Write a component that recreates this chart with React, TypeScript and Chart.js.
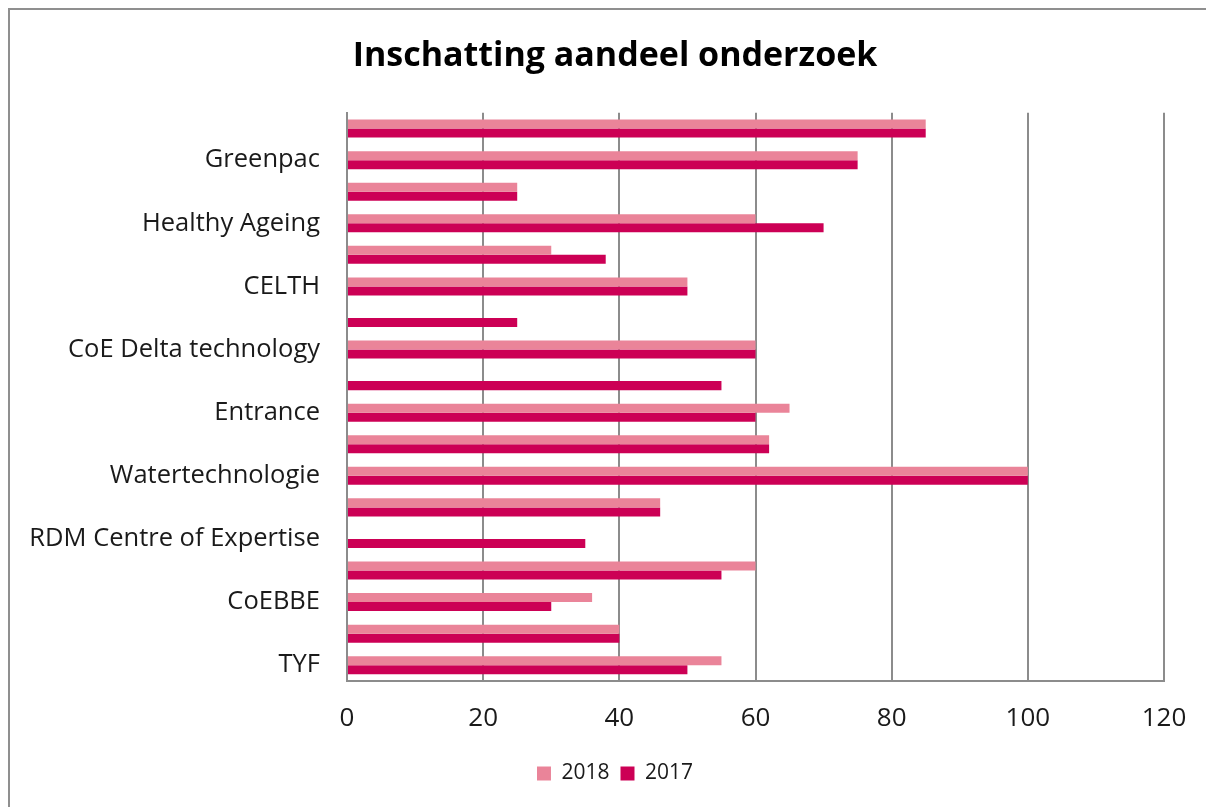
import React, { useEffect, useRef } from "react";
import { Chart, registerables } from "chart.js";

Chart.register(...registerables);

const TITLE = "Inschatting aandeel onderzoek";
const categories = [
  "", "Greenpac", "", "Healthy Ageing", "", "CELTH", "", "CoE Delta technology", "",
  "Entrance", "", "Watertechnologie", "", "RDM Centre of Expertise", "", "CoEBBE", "", "TYF",
];
const series2018 = [85, 75, 25, 60, 30, 50, null, 60, null, 65, 62, 100, 46, null, 60, 36, 40, 55];
const series2017 = [85, 75, 25, 70, 38, 50, 25, 60, 55, 60, 62, 100, 46, 35, 55, 30, 40, 50];
const xTicks = [0, 20, 40, 60, 80, 100, 120];

const FONT = "'Open Sans', sans-serif";
const GRID = "#8c8c8c";

const widenLabelArea = {
  id: "widenLabelArea",
  afterLayout(chart: any) {
    if (chart.scales.y) chart.scales.y.left = 0;
  },
};

export default function App() {
  const ref = useRef<HTMLCanvasElement | null>(null);
  useEffect(() => {
    document.body.style.overflow = "hidden";
    if (!ref.current) return;
    const chart = new Chart(ref.current, {
      type: "bar",
      data: {
        labels: categories,
        datasets: [
          { label: "2018", data: series2018, backgroundColor: "#EA8499", borderWidth: 0, categoryPercentage: 0.571, barPercentage: 1 },
          { label: "2017", data: series2017, backgroundColor: "#CC0055", borderWidth: 0, categoryPercentage: 0.571, barPercentage: 1 },
        ],
      },
      plugins: [widenLabelArea],
      options: {
        indexAxis: "y",
        animation: false,
        responsive: false,
        maintainAspectRatio: false,
        layout: { padding: { left: 56, right: 50, top: 0, bottom: 13 } },
        plugins: {
          tooltip: { enabled: false },
          title: {
            display: true,
            text: TITLE,
            color: "#000",
            font: { family: FONT, size: 34, weight: "bold" },
            padding: { top: 26, bottom: 36 },
          },
          legend: {
            display: true,
            position: "bottom",
            labels: {
              color: "#1a1a1a",
              font: { family: FONT, size: 21 },
              boxWidth: 14,
              boxHeight: 14,
              padding: 11,
            },
          },
        },
        scales: {
          x: {
            type: "linear",
            min: 0,
            max: 120,
            afterBuildTicks: (axis: any) => {
              axis.ticks = xTicks.map((v) => ({ value: v }));
            },
            afterFit: (axis: any) => {
              axis.height = 71;
            },
            ticks: { color: "#1a1a1a", font: { family: FONT, size: 26 }, padding: 22 },
            grid: { color: GRID, lineWidth: 2, drawTicks: false },
            border: { display: true, color: GRID, width: 2 },
          },
          y: {
            type: "category",
            afterFit: (axis: any) => {
              axis.width = 281;
            },
            ticks: { color: "#1a1a1a", font: { family: FONT, size: 25.5 }, padding: 27, autoSkip: false },
            grid: { display: false, drawTicks: false },
            border: { display: true, color: GRID, width: 2 },
          },
        },
      },
    });
    return () => chart.destroy();
  }, []);
  return (
    <div
      style={{
        width: 1206,
        height: 799,
        borderLeft: "2px solid #8f8f8f",
        borderTop: "2px solid #8f8f8f",
        boxSizing: "border-box",
        background: "#fff",
      }}
    >
      <canvas ref={ref} width={1204} height={797} style={{ display: "block" }} />
    </div>
  );
}
